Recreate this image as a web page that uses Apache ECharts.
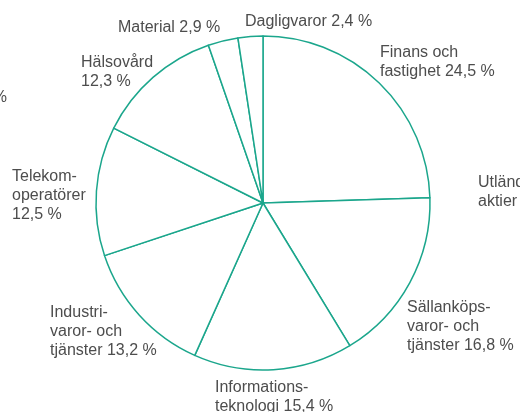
<!DOCTYPE html>
<html lang="sv">
  <head>
    <meta charset="UTF-8" />
    <title>Branschfördelning</title>
    <style>
      * {
        margin: 0;
        padding: 0;
      }
      #main {
        width: 520px;
        height: 412px;
      }
    </style>
  </head>
  <body>
    <div id="main"></div>
    <script src="https://cdn.jsdelivr.net/npm/echarts@6/dist/echarts.min.js"></script>
    <script>
      // branscher, medurs från klockan 12 (ett "\n" på slutet = värdet på egen rad)
      const branscher = [
        "Finans och\nfastighet",
        "Sällanköps-\nvaror- och\ntjänster",
        "Informations-\nteknologi",
        "Industri-\nvaror- och\ntjänster",
        "Telekom-\noperatörer\n",
        "Hälsovård\n",
        "Material",
        "Dagligvaror",
      ];
      // andel i procent
      const andelar = [24.5, 16.8, 15.4, 13.2, 12.5, 12.3, 2.9, 2.4];

      // etiketternas övre vänstra hörn
      const etikettPos = [
        [380, 43],
        [407, 298],
        [215, 378],
        [50, 303],
        [12, 167],
        [81, 53],
        [118, 18],
        [245, 12],
      ];

      const myChart = echarts.init(document.getElementById("main"));

      const grön = "#1ba68c";
      const textfärg = "#4d4d4d";
      const typsnitt = "Liberation Sans, Arial, sans-serif";

      function procent(v) {
        return v.toFixed(1).replace(".", ",") + " %";
      }

      const option = {
        backgroundColor: "#ffffff",
        animation: false,
        series: [
          {
            type: "pie",
            center: [263, 203],
            radius: [0, 167],
            startAngle: 90,
            clockwise: true,
            avoidLabelOverlap: false,
            itemStyle: {
              color: "#ffffff",
              borderColor: grön,
              borderWidth: 1.5,
            },
            emphasis: { disabled: true },
            label: {
              show: true,
              position: "outside",
              color: textfärg,
              fontFamily: typsnitt,
              fontSize: 16,
              lineHeight: 19,
              formatter: (p) =>
                p.name + (p.name.endsWith("\n") ? "" : " ") + procent(p.value),
            },
            labelLine: { show: false },
            labelLayout: (params) => {
              const pos = etikettPos[params.dataIndex];
              return {
                x: pos[0],
                y: pos[1],
                align: "left",
                verticalAlign: "top",
              };
            },
            data: branscher.map((namn, i) => ({ name: namn, value: andelar[i] })),
          },
        ],
        // rester av grannbilderna som skurits in i kanten
        graphic: [
          {
            type: "text",
            left: 478,
            top: 173,
            style: {
              text: "Utländska\naktier",
              fill: textfärg,
              font: "16px " + typsnitt,
              lineHeight: 19,
            },
          },
          {
            type: "text",
            x: 7,
            y: 90,
            style: {
              text: "12,3 %",
              align: "right",
              fill: textfärg,
              font: "16px " + typsnitt,
            },
          },
        ],
      };

      myChart.setOption(option);
    </script>
  </body>
</html>
